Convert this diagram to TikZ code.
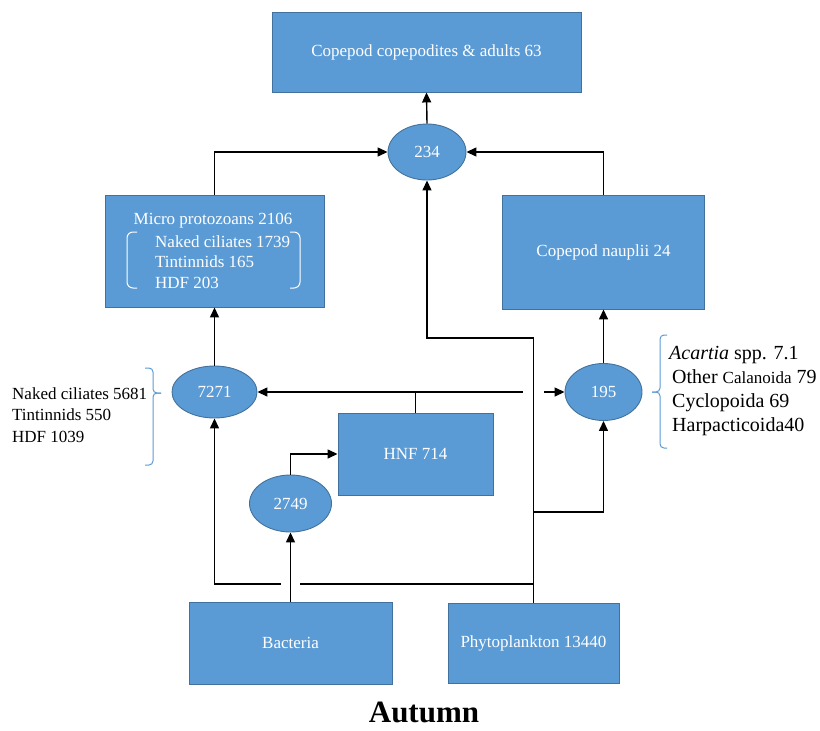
\documentclass[tikz,border=0pt]{standalone}
\usepackage{fontspec}
\setmainfont{Liberation Serif}
\usetikzlibrary{shapes.geometric,arrows.meta}
\definecolor{boxblue}{HTML}{5B9BD5}
\definecolor{boxedge}{HTML}{41719C}
\tikzset{
  box/.style={draw=boxedge, line width=0.9pt, fill=boxblue, text=white, inner sep=0pt, font=\fontsize{17}{21}\selectfont},
  oval/.style={ellipse, draw=boxedge, line width=0.9pt, fill=boxblue, text=white, inner sep=0pt, font=\fontsize{17}{21}\selectfont},
  conn/.style={line width=1.4pt, black},
  arr/.style={conn, -{Triangle[length=10pt,width=9pt]}},
  bracew/.style={white, line width=1pt, rounded corners=6pt},
  braceb/.style={boxblue, line width=1pt, rounded corners=4pt},
  lab/.style={inner sep=0pt, align=left, font=\fontsize{17}{21.5}\selectfont},
}
\begin{document}
\begin{tikzpicture}[x=1pt,y=-1pt]
\useasboundingbox (0,0) rectangle (820,731);
% boxes
\node[box, minimum width=309pt, minimum height=80pt] (top) at (426.5,52) {Copepod copepodites \& adults 63};
\node[box, minimum width=219pt, minimum height=112pt] (micro) at (214.5,251) {};
\node[box, minimum width=202pt, minimum height=114pt] (naup) at (603.5,252) {Copepod nauplii 24};
\node[box, minimum width=155pt, minimum height=82pt] (hnf) at (415.5,454) {HNF 714};
\node[box, minimum width=203pt, minimum height=82pt] (bact) at (290.5,643) {Bacteria};
\node[box, minimum width=171pt, minimum height=80pt] (phyto) at (533.5,643) {Phytoplankton 13440};
% ellipses
\node[oval, minimum width=78pt, minimum height=56pt] (e234) at (427,152) {234};
\node[oval, minimum width=85pt, minimum height=52pt] (e7271) at (214.5,392) {7271};
\node[oval, minimum width=77pt, minimum height=57pt] (e195) at (603.5,392) {195};
\node[oval, minimum width=82pt, minimum height=57pt] (e2749) at (290.5,503.5) {2749};
% micro protozoan text
\node[lab, text=white] (microtitle) at (213,221) {Micro protozoans 2106};
\node[lab, text=white, anchor=west, font=\fontsize{17}{20.5}\selectfont] (microlist) at (155,262) {Naked ciliates 1739\\Tintinnids 165\\HDF 203};
\draw[bracew] (137,232) -- (127,232) -- (127,288) -- (137,288);
\draw[bracew] (290,232) -- (300,232) -- (300,288) -- (290,288);
% left label
\node[lab, anchor=west] (leftlab) at (12,415) {Naked ciliates 5681\\Tintinnids 550\\HDF 1039};
\draw[braceb] (145,368) -- (153,368) -- (153,393) -- (161,393);
\draw[braceb] (161,393) -- (153,393) -- (153,465) -- (145,465);
% right label
\node[lab, anchor=west, font=\fontsize{20}{24}\selectfont] (rightlab) at (672,391) {\hspace*{-3pt}\textit{Acartia} spp. 7.1\\Other {\fontsize{17}{20}\selectfont Calanoida} 79\\Cyclopoida 69\\Harpacticoida40};
\draw[braceb] (667,335) -- (660,335) -- (660,392) -- (652,392);
\draw[braceb] (652,392) -- (660,392) -- (660,448) -- (667,448);
% season
\node[font=\fontsize{31}{36}\selectfont\bfseries] (season) at (424,712) {Autumn};
% connectors
\draw[arr] (e234.north) -- (top.south);
\draw[arr] (micro.north) |- (e234.west);
\draw[arr] (naup.north) |- (e234.east);
\draw[arr] (e7271.north) -- (micro.south);
\draw[arr] (e195.north) -- (naup.south);
% HNF outputs
\coordinate (hj) at (hnf.north |- e7271.east);
\coordinate (gapL) at (523,392);
\coordinate (gapR) at (544,392);
\draw[arr] (hnf.north) -- (hj) -- (e7271.east);
\draw[conn] (hj) -- (gapL);
\draw[arr] (gapR) -- (e195.west);
% phytoplankton
\coordinate (pturn) at (533.5,338);
\coordinate (pb) at (533.5,512);
\coordinate (pc) at (533.5,584);
\coordinate (bgR) at (300,584);
\coordinate (bgL) at (281,584);
\draw[arr] (phyto.north) -- (pturn) -| (e234.south);
\draw[arr] (pb) -| (e195.south);
\draw[conn] (pc) -- (bgR);
\draw[arr] (bgL) -| (e7271.south);
% bacteria
\draw[arr] (bact.north) -- (e2749.south);
\draw[arr] (e2749.north) |- (hnf.west);
\end{tikzpicture}
\end{document}
